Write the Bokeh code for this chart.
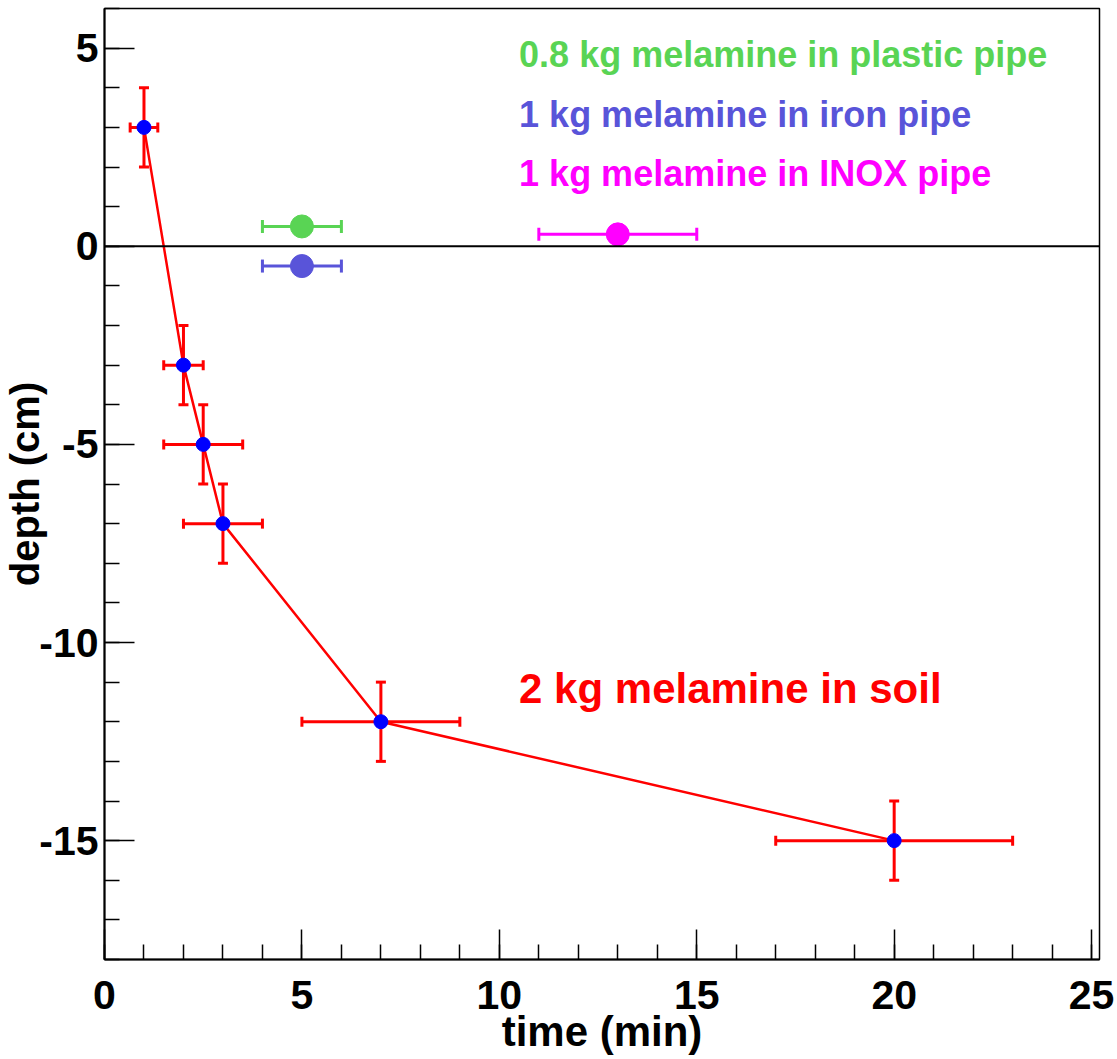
import math
from bokeh.plotting import figure
from bokeh.models import ColumnDataSource, Whisker, TeeHead, Span, Label, FixedTicker, Range1d
from bokeh.embed import file_html
from bokeh.resources import INLINE

# ---- data ----
soil_time = [1, 2, 2.5, 3, 7, 20]
soil_depth = [3, -3, -5, -7, -12, -15]
soil_time_err = [0.35, 0.5, 1, 1, 2, 3]
soil_depth_err = [1, 1, 1, 1, 1, 1]

plastic_time = [5]
plastic_depth = [0.5]
plastic_time_err = [1]

iron_time = [5]
iron_depth = [-0.5]
iron_time_err = [1]

inox_time = [13]
inox_depth = [0.3]
inox_time_err = [2]

x_ticks = [0, 5, 10, 15, 20, 25]
x_minor = list(range(0, 26))
y_ticks = [-15, -10, -5, 0, 5]
y_minor = list(range(-18, 7))
y_tick_labels = {-15: "-15", -10: "-10", -5: "-5", 0: "0", 5: "5"}

labels_text = ["0.8 kg melamine in plastic pipe", "1 kg melamine in iron pipe",
               "1 kg melamine in INOX pipe", "2 kg melamine in soil"]
labels_x = [10.5, 10.5, 10.5, 10.5]
labels_y = [4.83, 3.33, 1.83, -11.17]

RED = "#ff0000"
BLUE = "#0000ff"
GREEN = "#59d454"
PURPLE = "#5954d9"
MAGENTA = "#ff00ff"
FONT = "Liberation Sans"

p = figure(width=1117, height=1059, output_backend="svg", toolbar_location=None,
           x_range=Range1d(0, 25.2), y_range=Range1d(-18, 6),
           min_border_left=104, min_border_right=18, min_border_top=8, min_border_bottom=100)
p.xgrid.visible = False
p.ygrid.visible = False
p.outline_line_color = "black"
p.outline_line_width = 1.5
p.background_fill_color = "white"
p.border_fill_color = "white"

for ax in (p.xaxis[0], p.yaxis[0]):
    ax.axis_line_width = 2
    ax.axis_line_color = "black"
    ax.major_tick_in = 30
    ax.major_tick_out = 0
    ax.minor_tick_in = 15
    ax.minor_tick_out = 0
    ax.major_tick_line_width = 1.5
    ax.minor_tick_line_width = 1.5
    ax.major_tick_line_color = "black"
    ax.minor_tick_line_color = "black"
    ax.major_label_text_font = FONT
    ax.major_label_text_font_style = "bold"
    ax.major_label_text_font_size = "41px"
    ax.major_label_text_color = "black"
    ax.axis_label_text_font = FONT
    ax.axis_label_text_font_style = "bold"
    ax.axis_label_text_color = "black"

p.xaxis.ticker = FixedTicker(ticks=x_ticks, minor_ticks=x_minor)
p.yaxis.ticker = FixedTicker(ticks=y_ticks, minor_ticks=y_minor)
p.yaxis.major_label_overrides = y_tick_labels
p.xaxis.major_label_standoff = 21
p.yaxis.major_label_standoff = 6

p.xaxis.axis_label = "time (min)"
p.xaxis.axis_label_text_font_size = "42px"
p.xaxis.axis_label_standoff = -4
p.yaxis.axis_label = "depth (cm)"
p.yaxis.axis_label_text_font_size = "40px"
p.yaxis.axis_label_standoff = -11

# zero line
p.add_layout(Span(location=0, dimension="width", line_color="black", line_width=2))

# soil series
soil = ColumnDataSource(dict(
    t=soil_time, d=soil_depth,
    tl=[t - e for t, e in zip(soil_time, soil_time_err)],
    tu=[t + e for t, e in zip(soil_time, soil_time_err)],
    dl=[d - e for d, e in zip(soil_depth, soil_depth_err)],
    du=[d + e for d, e in zip(soil_depth, soil_depth_err)],
))
p.line("t", "d", source=soil, line_color=RED, line_width=2.5)
p.add_layout(Whisker(source=soil, base="d", lower="tl", upper="tu", dimension="width",
                     line_color=RED, line_width=3,
                     lower_head=TeeHead(size=10, line_color=RED, line_width=3),
                     upper_head=TeeHead(size=10, line_color=RED, line_width=3)))
p.add_layout(Whisker(source=soil, base="t", lower="dl", upper="du", dimension="height",
                     line_color=RED, line_width=3,
                     lower_head=TeeHead(size=10, line_color=RED, line_width=3),
                     upper_head=TeeHead(size=10, line_color=RED, line_width=3)))
p.scatter("t", "d", source=soil, size=14, fill_color=BLUE, line_color=BLUE)

# pipe series
for tt, dd, ee, col in [(plastic_time, plastic_depth, plastic_time_err, GREEN),
                        (iron_time, iron_depth, iron_time_err, PURPLE),
                        (inox_time, inox_depth, inox_time_err, MAGENTA)]:
    src = ColumnDataSource(dict(t=tt, d=dd,
                                tl=[a - b for a, b in zip(tt, ee)],
                                tu=[a + b for a, b in zip(tt, ee)]))
    p.add_layout(Whisker(source=src, base="d", lower="tl", upper="tu", dimension="width",
                         line_color=col, line_width=3,
                         lower_head=TeeHead(size=13, line_color=col, line_width=3),
                         upper_head=TeeHead(size=13, line_color=col, line_width=3)))
    p.scatter("t", "d", source=src, size=23, fill_color=col, line_color=col)

# text labels
for txt, lx, ly, col, fs in zip(labels_text, labels_x, labels_y,
                                [GREEN, PURPLE, MAGENTA, RED],
                                ["36px", "36px", "36px", "42px"]):
    p.add_layout(Label(x=lx, y=ly, text=txt, text_color=col, text_font=FONT,
                       text_font_style="bold", text_font_size=fs,
                       text_baseline="alphabetic", text_align="left"))

open("out.html", "w").write(file_html(p, INLINE))
